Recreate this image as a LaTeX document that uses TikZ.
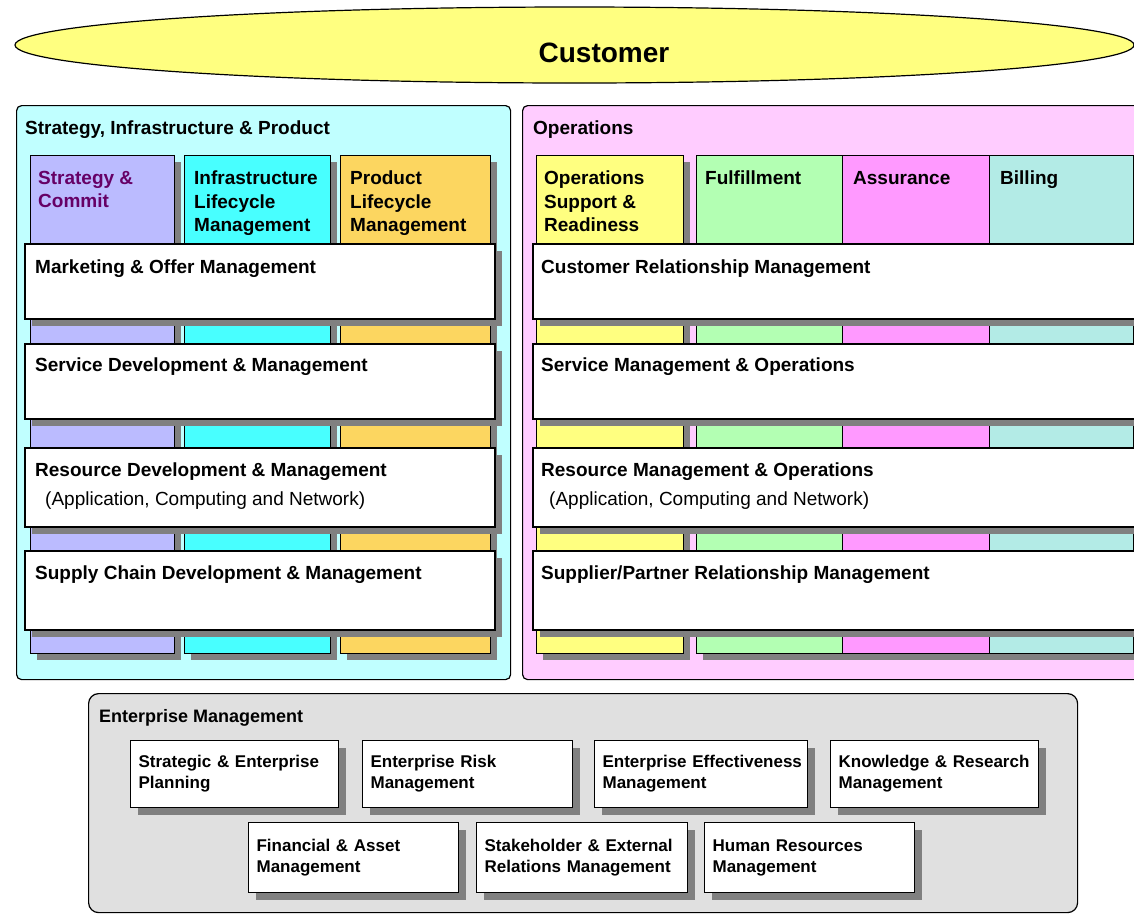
\documentclass[tikz,border=0pt]{standalone}
\usepackage{fontspec}
\setmainfont{Liberation Sans}
\usetikzlibrary{shapes.geometric,shadows}

\definecolor{custyellow}{HTML}{FFFF80}
\definecolor{sipcyan}{HTML}{C0FFFF}
\definecolor{opspink}{HTML}{FFCCFF}
\definecolor{emgray}{HTML}{E0E0E0}
\definecolor{commit}{HTML}{BBBBFF}
\definecolor{infra}{HTML}{48FFFF}
\definecolor{product}{HTML}{FCD660}
\definecolor{opsupport}{HTML}{FFFF80}
\definecolor{fulfil}{HTML}{B3FFB3}
\definecolor{assure}{HTML}{FF99FF}
\definecolor{billing}{HTML}{B3EBE6}
\definecolor{shadowgray}{HTML}{808080}
\definecolor{stratpurple}{HTML}{660066}

\begin{document}
\begin{tikzpicture}[x=1pt, y=-1pt,
    panel/.style={draw, line width=1.2pt, rounded corners=5pt, anchor=north west, inner sep=0pt},
    colbox/.style={draw, line width=1.2pt, anchor=north west, inner sep=0pt, minimum height=498pt,
        drop shadow={shadow xshift=6pt, shadow yshift=-6pt, fill=shadowgray, opacity=1}},
    rowbox/.style={draw, fill=white, line width=1.5pt, anchor=north west, inner sep=0pt,
        drop shadow={shadow xshift=7pt, shadow yshift=-7pt, fill=shadowgray, opacity=1}},
    emitem/.style={draw, fill=white, line width=1.2pt, anchor=north west, align=left,
        inner xsep=8pt, inner ysep=0pt, font=\bfseries\fontsize{17}{21}\selectfont,
        drop shadow={shadow xshift=7pt, shadow yshift=-7pt, fill=shadowgray, opacity=1}},
    lbl/.style={anchor=north west, inner sep=0pt, align=left, font=\bfseries\fontsize{19}{23.5}\selectfont}]
    \useasboundingbox (0,0) rectangle (1134,914);
    \clip (0,0) rectangle (1134,914);

    % customer
    \node[ellipse, draw, line width=1.2pt, fill=custyellow, inner sep=0pt, minimum width=1119pt, minimum height=76pt] (cust) at (574.5,45) {};
    \node[font=\bfseries\fontsize{28}{32}\selectfont, inner sep=0pt] (cust-t) at (604,52.5) {Customer};

    % panels
    \node[panel, fill=sipcyan, minimum width=494pt, minimum height=574pt] (sip) at (16,105) {};
    \node[panel, fill=opspink, minimum width=640pt, minimum height=574pt] (ops) at (522,105) {};
    \node[panel, fill=emgray, rounded corners=10pt, minimum width=989pt, minimum height=219pt] (em) at (88,693) {};
    \node[lbl] (sip-t) at (25,120.5) {Strategy, Infrastructure \& Product};
    \node[lbl] (ops-t) at (533,120.5) {Operations};

    % vertical columns
    \node[colbox, fill=commit, minimum width=144pt] (sc) at (30,155) {};
    \node[colbox, fill=infra, minimum width=146pt] (ilm) at (184,155) {};
    \node[colbox, fill=product, minimum width=150pt] (plm) at (340,155) {};
    \node[colbox, fill=opsupport, minimum width=147pt] (osr) at (536,155) {};
    \node[colbox, fill=fulfil, minimum width=146pt] (ful) at (696,155) {};
    \node[colbox, fill=assure, minimum width=147pt] (asr) at (842,155) {};
    \node[colbox, fill=billing, minimum width=144pt] (bil) at (989,155) {};
    \node[lbl, text=stratpurple] (sc-t) at ([xshift=8pt, yshift=-16pt]sc.north west) {Strategy \&\\Commit};
    \node[lbl] (ilm-t) at ([xshift=10pt, yshift=-16pt]ilm.north west) {Infrastructure\\Lifecycle\\Management};
    \node[lbl] (plm-t) at ([xshift=10pt, yshift=-16pt]plm.north west) {Product\\Lifecycle\\Management};
    \node[lbl] (osr-t) at ([xshift=8pt, yshift=-16pt]osr.north west) {Operations\\Support \&\\Readiness};
    \node[lbl] (ful-t) at ([xshift=9pt, yshift=-16pt]ful.north west) {Fulfillment};
    \node[lbl] (asr-t) at ([xshift=11pt, yshift=-16pt]asr.north west) {Assurance};
    \node[lbl] (bil-t) at ([xshift=11pt, yshift=-16pt]bil.north west) {Billing};

    % horizontal rows
    \node[rowbox, minimum width=470pt, minimum height=75pt] (mom) at (24,243) {};
    \node[rowbox, minimum width=470pt, minimum height=75pt] (sdm) at (24,343) {};
    \node[rowbox, minimum width=470pt, minimum height=79pt] (rdm) at (24,447) {};
    \node[rowbox, minimum width=470pt, minimum height=79pt] (scdm) at (24,550) {};
    \node[rowbox, minimum width=620pt, minimum height=75pt] (crm) at (532,243) {};
    \node[rowbox, minimum width=620pt, minimum height=75pt] (smo) at (532,343) {};
    \node[rowbox, minimum width=620pt, minimum height=79pt] (rmo) at (532,447) {};
    \node[rowbox, minimum width=620pt, minimum height=79pt] (sprm) at (532,550) {};
    \node[lbl] (mom-t) at ([xshift=11pt, yshift=-16.5pt]mom.north west) {Marketing \& Offer Management};
    \node[lbl] (sdm-t) at ([xshift=11pt, yshift=-15pt]sdm.north west) {Service Development \& Management};
    \node[lbl] (rdm-t) at ([xshift=11pt, yshift=-16pt]rdm.north west) {Resource Development \& Management\\[5.5pt]\hspace*{10pt}{\mdseries (Application, Computing and Network)}};
    \node[lbl] (scdm-t) at ([xshift=11pt, yshift=-16pt]scdm.north west) {Supply Chain Development \& Management};
    \node[lbl] (crm-t) at ([xshift=9pt, yshift=-16.5pt]crm.north west) {Customer Relationship Management};
    \node[lbl] (smo-t) at ([xshift=9pt, yshift=-15pt]smo.north west) {Service Management \& Operations};
    \node[lbl] (rmo-t) at ([xshift=9pt, yshift=-16pt]rmo.north west) {Resource Management \& Operations\\[5.5pt]\hspace*{8pt}{\mdseries (Application, Computing and Network)}};
    \node[lbl] (sprm-t) at ([xshift=9pt, yshift=-16pt]sprm.north west) {Supplier/Partner Relationship Management};

    % enterprise management
    \node[lbl, font=\bfseries\fontsize{18}{22}\selectfont] (em-t) at (99,709.5) {Enterprise Management};
    \node[emitem, minimum width=208pt, text width=192pt, minimum height=67pt] (sep) at (130,740) {Strategic \& Enterprise\\Planning};
    \node[emitem, minimum width=210pt, text width=194pt, minimum height=67pt] (erm) at (362,740) {Enterprise Risk\\Management};
    \node[emitem, minimum width=213pt, text width=197pt, minimum height=67pt] (eem) at (594,740) {\mbox{Enterprise Effectiveness}\\Management};
    \node[emitem, minimum width=208pt, text width=192pt, minimum height=67pt] (krm) at (830,740) {Knowledge \& Research\\Management};
    \node[emitem, minimum width=210pt, text width=194pt, minimum height=70pt] (fam) at (248,822) {Financial \& Asset\\Management};
    \node[emitem, minimum width=211pt, text width=195pt, minimum height=70pt] (serm) at (476,822) {Stakeholder \& External\\Relations Management};
    \node[emitem, minimum width=210pt, text width=194pt, minimum height=70pt] (hrm) at (704,822) {Human Resources\\Management};
\end{tikzpicture}
\end{document}
